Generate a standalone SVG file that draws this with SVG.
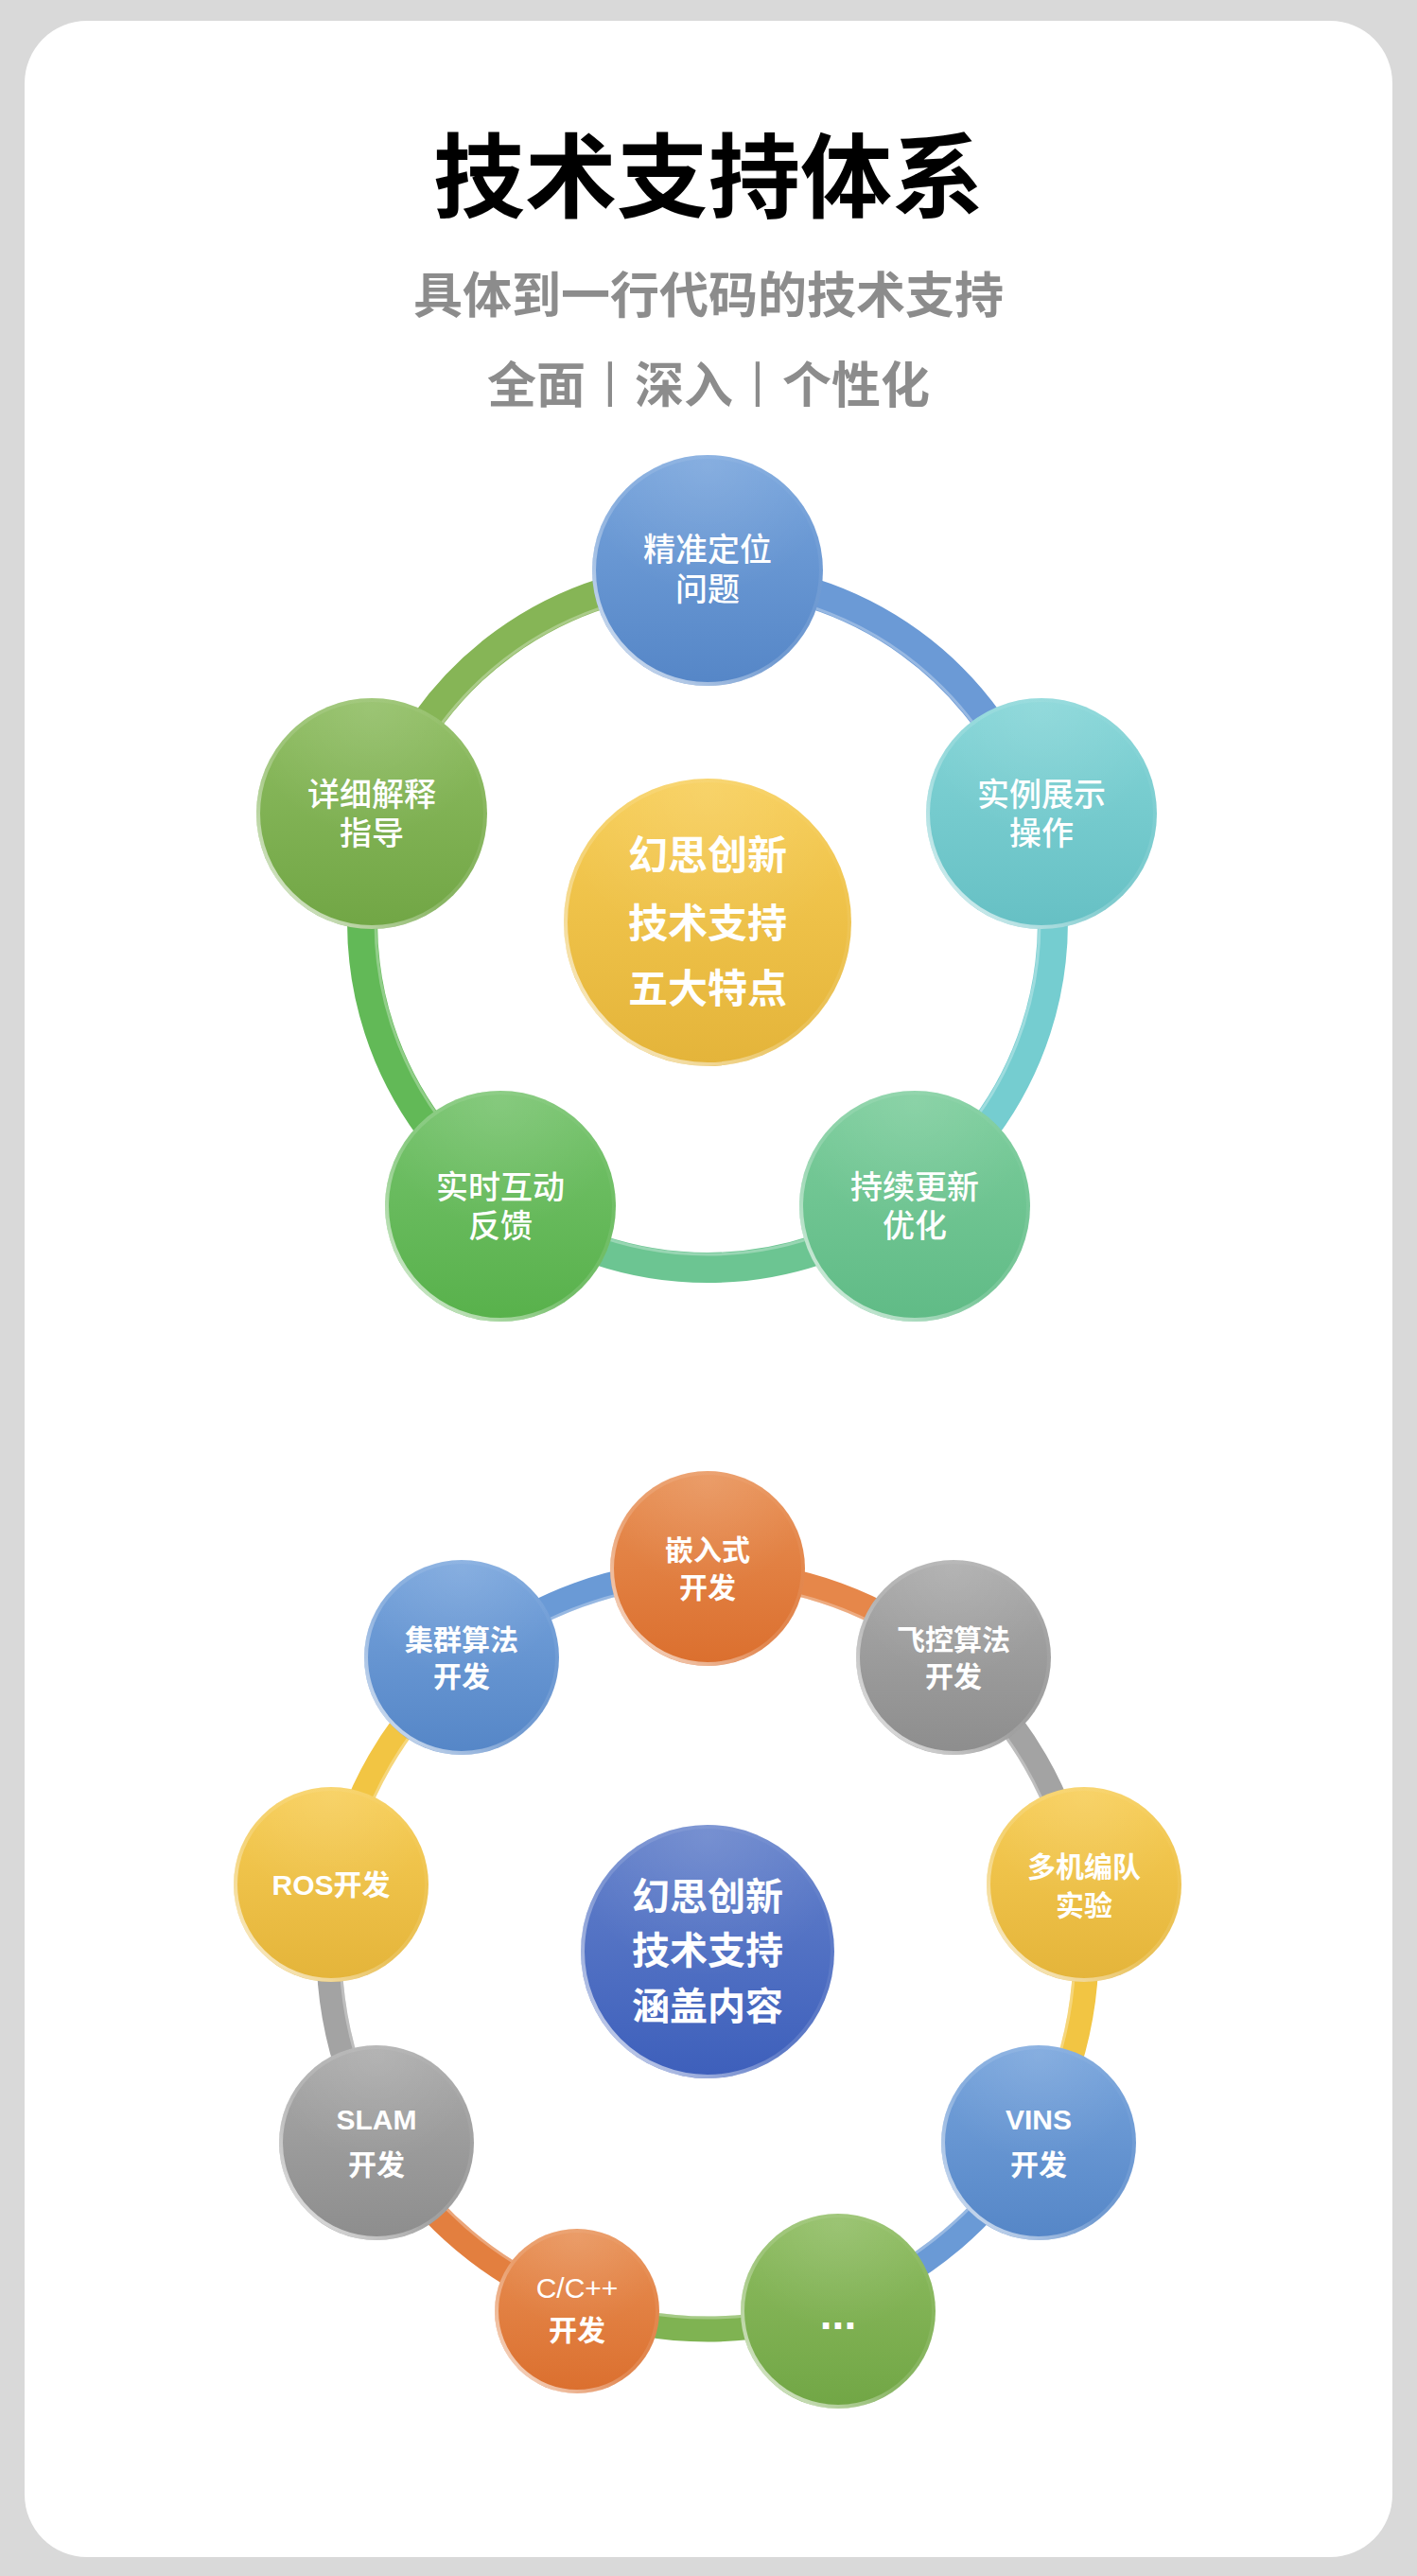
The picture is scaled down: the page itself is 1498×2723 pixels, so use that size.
<svg xmlns="http://www.w3.org/2000/svg" width="1498" height="2723" viewBox="0 0 1498 2723">
<style>
.cjk{font-family:"Noto Sans CJK SC","Noto Sans CJK JP",sans-serif;text-anchor:middle}
.lbl{font-family:"Liberation Sans","Noto Sans CJK SC",sans-serif;text-anchor:middle;fill:#ffffff}
.title{font-size:97px;font-weight:bold;fill:#000000}
.sub{font-size:52px;font-weight:bold;fill:#8c8c8c}
.sep{font-weight:normal}
.t1{font-size:34px;font-weight:500}
.c1{font-size:42px;font-weight:bold}
.t2{font-size:30px;font-weight:bold}
.t2n{font-size:30px;font-weight:normal}
.c2{font-size:40px;font-weight:bold}
.band{fill:none}
.hl{fill:none;stroke:#ffffff;stroke-opacity:0.3;stroke-width:3}
.rim{fill:none;stroke:url(#rim);stroke-width:4}
.gloss{fill:url(#gloss)}
</style>
<defs>
<linearGradient id="rim" x1="1" y1="0" x2="0" y2="1">
<stop offset="0" stop-color="#ffffff" stop-opacity="0"/>
<stop offset="0.55" stop-color="#ffffff" stop-opacity="0.15"/>
<stop offset="1" stop-color="#ffffff" stop-opacity="0.85"/>
</linearGradient>
<radialGradient id="gloss" cx="0.5" cy="0.05" r="0.55">
<stop offset="0" stop-color="#ffffff" stop-opacity="0.12"/>
<stop offset="1" stop-color="#ffffff" stop-opacity="0"/>
</radialGradient>
<linearGradient id="gBlue" x1="0" y1="0" x2="0" y2="1"><stop offset="0" stop-color="#77a4dc"/><stop offset="1" stop-color="#5586c7"/></linearGradient>
<linearGradient id="gCyan" x1="0" y1="0" x2="0" y2="1"><stop offset="0" stop-color="#84d5d7"/><stop offset="1" stop-color="#66c0c4"/></linearGradient>
<linearGradient id="gMint" x1="0" y1="0" x2="0" y2="1"><stop offset="0" stop-color="#7ccd9c"/><stop offset="1" stop-color="#60bb86"/></linearGradient>
<linearGradient id="gGreen" x1="0" y1="0" x2="0" y2="1"><stop offset="0" stop-color="#76c36d"/><stop offset="1" stop-color="#58b14b"/></linearGradient>
<linearGradient id="gOlive" x1="0" y1="0" x2="0" y2="1"><stop offset="0" stop-color="#8fbd62"/><stop offset="1" stop-color="#71a645"/></linearGradient>
<linearGradient id="gYellow" x1="0" y1="0" x2="0" y2="1"><stop offset="0" stop-color="#f7cd55"/><stop offset="1" stop-color="#e4b43a"/></linearGradient>
<linearGradient id="gOrange" x1="0" y1="0" x2="0" y2="1"><stop offset="0" stop-color="#e89055"/><stop offset="1" stop-color="#db6f2e"/></linearGradient>
<linearGradient id="gGray" x1="0" y1="0" x2="0" y2="1"><stop offset="0" stop-color="#aaaaaa"/><stop offset="1" stop-color="#8d8d8d"/></linearGradient>
<linearGradient id="gDeep" x1="0" y1="0" x2="0" y2="1"><stop offset="0" stop-color="#6582cb"/><stop offset="1" stop-color="#3d5fbb"/></linearGradient>
</defs>

<rect x="0" y="0" width="1498" height="2723" fill="#d9d9d9"/>
<rect x="26" y="22" width="1446" height="2681" rx="66" ry="66" fill="#ffffff"/>

<g id="header">
<text class="cjk title" x="749" y="222">技术支持体系</text>
<text class="cjk sub" x="749" y="331">具体到一行代码的技术支持</text>
<text class="cjk sub" x="749" y="426">全面<tspan class="sep">丨</tspan>深入<tspan class="sep">丨</tspan>个性化</text>
</g>

<g id="connectors">
<g stroke-width="32" class="band">
<path d="M748,610 A365,365 0 0 1 1095.1,862.2" stroke="#6b9ad6" fill="none"/>
<path d="M1095.1,862.2 A365,365 0 0 1 962.5,1270.3" stroke="#75cdd0" fill="none"/>
<path d="M962.5,1270.3 A365,365 0 0 1 533.5,1270.3" stroke="#6cc592" fill="none"/>
<path d="M533.5,1270.3 A365,365 0 0 1 400.9,862.2" stroke="#62b957" fill="none"/>
<path d="M400.9,862.2 A365,365 0 0 1 748,610" stroke="#86b556" fill="none"/>
</g>
<circle class="hl" cx="748" cy="975" r="351"/>
<g stroke-width="27" class="band">
<path d="M748,1662 A400,400 0 0 1 1005.1,1755.6" stroke="#e6874a" fill="none"/>
<path d="M1005.1,1755.6 A400,400 0 0 1 1141.9,1992.6" stroke="#a3a3a3" fill="none"/>
<path d="M1141.9,1992.6 A400,400 0 0 1 1094.4,2262" stroke="#f2c543" fill="none"/>
<path d="M1094.4,2262 A400,400 0 0 1 884.8,2437.9" stroke="#6a9ad6" fill="none"/>
<path d="M884.8,2437.9 A400,400 0 0 1 611.2,2437.9" stroke="#7fb352" fill="none"/>
<path d="M611.2,2437.9 A400,400 0 0 1 401.6,2262" stroke="#e37f3f" fill="none"/>
<path d="M401.6,2262 A400,400 0 0 1 354.1,1992.6" stroke="#a3a3a3" fill="none"/>
<path d="M354.1,1992.6 A400,400 0 0 1 490.9,1755.6" stroke="#f2c543" fill="none"/>
<path d="M490.9,1755.6 A400,400 0 0 1 748,1662" stroke="#6a9ad6" fill="none"/>
</g>
<circle class="hl" cx="748" cy="2062" r="388"/>
</g>

<g id="ring1-center">
<circle cx="748" cy="975" r="152" fill="url(#gYellow)"/>
<circle class="gloss" cx="748" cy="975" r="152"/>
<circle class="rim" cx="748" cy="975" r="150"/>
<text class="lbl c1" x="748" y="919">幻思创新</text>
<text class="lbl c1" x="748" y="991">技术支持</text>
<text class="lbl c1" x="748" y="1060">五大特点</text>
</g>
<g id="n-jingzhun">
<circle cx="748" cy="603" r="122" fill="url(#gBlue)"/>
<circle class="gloss" cx="748" cy="603" r="122"/>
<circle class="rim" cx="748" cy="603" r="120"/>
<text class="lbl t1" x="748" y="593">精准定位</text>
<text class="lbl t1" x="748" y="635">问题</text>
</g>
<g id="n-shili">
<circle cx="1101" cy="860" r="122" fill="url(#gCyan)"/>
<circle class="gloss" cx="1101" cy="860" r="122"/>
<circle class="rim" cx="1101" cy="860" r="120"/>
<text class="lbl t1" x="1101" y="852">实例展示</text>
<text class="lbl t1" x="1101" y="893">操作</text>
</g>
<g id="n-chixu">
<circle cx="967" cy="1275" r="122" fill="url(#gMint)"/>
<circle class="gloss" cx="967" cy="1275" r="122"/>
<circle class="rim" cx="967" cy="1275" r="120"/>
<text class="lbl t1" x="967" y="1267">持续更新</text>
<text class="lbl t1" x="967" y="1308">优化</text>
</g>
<g id="n-shishi">
<circle cx="529" cy="1275" r="122" fill="url(#gGreen)"/>
<circle class="gloss" cx="529" cy="1275" r="122"/>
<circle class="rim" cx="529" cy="1275" r="120"/>
<text class="lbl t1" x="529" y="1267">实时互动</text>
<text class="lbl t1" x="529" y="1308">反馈</text>
</g>
<g id="n-xiangxi">
<circle cx="393" cy="860" r="122" fill="url(#gOlive)"/>
<circle class="gloss" cx="393" cy="860" r="122"/>
<circle class="rim" cx="393" cy="860" r="120"/>
<text class="lbl t1" x="393" y="852">详细解释</text>
<text class="lbl t1" x="393" y="893">指导</text>
</g>

<g id="ring2-center">
<circle cx="748" cy="2063" r="134" fill="url(#gDeep)"/>
<circle class="gloss" cx="748" cy="2063" r="134"/>
<circle class="rim" cx="748" cy="2063" r="132"/>
<text class="lbl c2" x="748" y="2019">幻思创新</text>
<text class="lbl c2" x="748" y="2076">技术支持</text>
<text class="lbl c2" x="748" y="2135">涵盖内容</text>
</g>
<g id="n-qianru">
<circle cx="748" cy="1658" r="103" fill="url(#gOrange)"/>
<circle class="gloss" cx="748" cy="1658" r="103"/>
<circle class="rim" cx="748" cy="1658" r="101"/>
<text class="lbl t2" x="748" y="1649">嵌入式</text>
<text class="lbl t2" x="748" y="1689">开发</text>
</g>
<g id="n-feikong">
<circle cx="1008" cy="1752" r="103" fill="url(#gGray)"/>
<circle class="gloss" cx="1008" cy="1752" r="103"/>
<circle class="rim" cx="1008" cy="1752" r="101"/>
<text class="lbl t2" x="1008" y="1744">飞控算法</text>
<text class="lbl t2" x="1008" y="1783">开发</text>
</g>
<g id="n-duoji">
<circle cx="1146" cy="1992" r="103" fill="url(#gYellow)"/>
<circle class="gloss" cx="1146" cy="1992" r="103"/>
<circle class="rim" cx="1146" cy="1992" r="101"/>
<text class="lbl t2" x="1146" y="1984">多机编队</text>
<text class="lbl t2" x="1146" y="2025">实验</text>
</g>
<g id="n-vins">
<circle cx="1098" cy="2265" r="103" fill="url(#gBlue)"/>
<circle class="gloss" cx="1098" cy="2265" r="103"/>
<circle class="rim" cx="1098" cy="2265" r="101"/>
<text class="lbl t2" x="1098" y="2251">VINS</text>
<text class="lbl t2" x="1098" y="2299">开发</text>
</g>
<g id="n-more">
<circle cx="886" cy="2443" r="103" fill="url(#gOlive)"/>
<circle class="gloss" cx="886" cy="2443" r="103"/>
<circle class="rim" cx="886" cy="2443" r="101"/>
<text class="lbl" x="886" y="2462" font-size="46" font-weight="bold">...</text>
</g>
<g id="n-cpp">
<circle cx="610" cy="2443" r="87" fill="url(#gOrange)"/>
<circle class="gloss" cx="610" cy="2443" r="87"/>
<circle class="rim" cx="610" cy="2443" r="85"/>
<text class="lbl t2n" x="610" y="2429">C/C++</text>
<text class="lbl t2" x="610" y="2474">开发</text>
</g>
<g id="n-slam">
<circle cx="398" cy="2265" r="103" fill="url(#gGray)"/>
<circle class="gloss" cx="398" cy="2265" r="103"/>
<circle class="rim" cx="398" cy="2265" r="101"/>
<text class="lbl t2" x="398" y="2251">SLAM</text>
<text class="lbl t2" x="398" y="2299">开发</text>
</g>
<g id="n-ros">
<circle cx="350" cy="1992" r="103" fill="url(#gYellow)"/>
<circle class="gloss" cx="350" cy="1992" r="103"/>
<circle class="rim" cx="350" cy="1992" r="101"/>
<text class="lbl t2" x="350" y="2003">ROS开发</text>
</g>
<g id="n-jiqun">
<circle cx="488" cy="1752" r="103" fill="url(#gBlue)"/>
<circle class="gloss" cx="488" cy="1752" r="103"/>
<circle class="rim" cx="488" cy="1752" r="101"/>
<text class="lbl t2" x="488" y="1744">集群算法</text>
<text class="lbl t2" x="488" y="1783">开发</text>
</g>
</svg>
